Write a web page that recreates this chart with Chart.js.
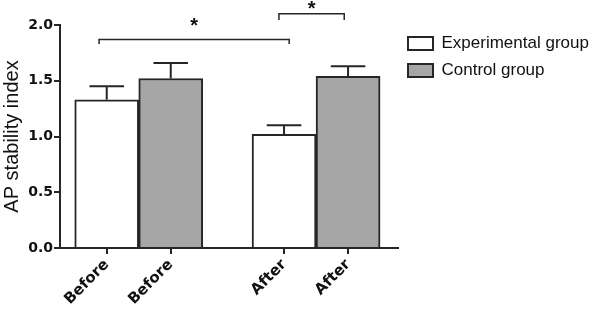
<!DOCTYPE html>
<html>
<head>
<meta charset="utf-8">
<script src="https://cdn.jsdelivr.net/npm/chart.js@4"></script>
<style>
  body { margin: 0; background: #fff; }
  #wrap { width: 597px; height: 310px; }
</style>
</head>
<body>
<div id="wrap"><canvas id="barChart" width="597" height="310"></canvas></div>
<script>
// data
var categories = ["Before", "Before", "After", "After"];
var groups = ["Experimental group", "Control group"];
var groupOfBar = [0, 1, 0, 1];
var means = [1.33, 1.52, 1.02, 1.54];
var sem = [0.12, 0.14, 0.08, 0.09];
var yTicks = [0, 0.5, 1.0, 1.5, 2.0];

// x placement: bars side by side, a gap between the two time points
var gap = 0.77;
var xPos = categories.map(function (c, i) { return i + (i >= 2 ? gap : 0); });

// significance brackets: [fromBar, toBar, level, tipLevel, offsetL, offsetR, starLevel]
var brackets = [
    [0, 2, 1.87, 1.83, -0.12, 0.08, 2.04],
    [2, 3, 2.10, 2.045, -0.08, -0.06, 2.19]
];

var fills = ["#ffffff", "#a6a6a6"];
var ink = "#262626";

var datasets = groups.map(function (g, gi) {
    var pts = [];
    means.forEach(function (m, i) {
        if (groupOfBar[i] === gi) pts.push({x: xPos[i], y: m});
    });
    return {
        label: g,
        data: pts,
        backgroundColor: fills[gi],
        borderColor: ink,
        borderWidth: 2,
        grouped: false,
        categoryPercentage: 1,
        barPercentage: 1
    };
});

var extras = {
    id: 'extras',
    afterDatasetsDraw: function (chart) {
        var ctx = chart.ctx, xs = chart.scales.x, ys = chart.scales.y;
        ctx.save();
        ctx.strokeStyle = ink;
        ctx.lineWidth = 2;
        // error bars (upper only)
        means.forEach(function (m, i) {
            var cx = xs.getPixelForValue(xPos[i]);
            var half = (xs.getPixelForValue(1) - xs.getPixelForValue(0)) * 0.27;
            var y0 = ys.getPixelForValue(m), y1 = ys.getPixelForValue(m + sem[i]);
            ctx.beginPath();
            ctx.moveTo(cx, y0);
            ctx.lineTo(cx, y1);
            ctx.moveTo(cx - half, y1);
            ctx.lineTo(cx + half, y1);
            ctx.stroke();
        });
        // brackets and stars
        ctx.lineWidth = 1.5;
        ctx.fillStyle = "#111";
        var fs = 20;
        ctx.font = "bold " + fs + "px 'Liberation Sans'";
        ctx.textAlign = 'center';
        ctx.textBaseline = 'alphabetic';
        brackets.forEach(function (b) {
            var x1 = xs.getPixelForValue(xPos[b[0]] + b[4]);
            var x2 = xs.getPixelForValue(xPos[b[1]] + b[5]);
            var y = ys.getPixelForValue(b[2]), yt = ys.getPixelForValue(b[3]);
            ctx.beginPath();
            ctx.moveTo(x1, yt);
            ctx.lineTo(x1, y);
            ctx.lineTo(x2, y);
            ctx.lineTo(x2, yt);
            ctx.stroke();
            ctx.fillText('*', (x1 + x2) / 2, ys.getPixelForValue(b[6]) + fs * 0.57);
        });
        ctx.restore();
    }
};

var ctxB = document.getElementById("barChart").getContext('2d');
var myBarChart = new Chart(ctxB, {
    type: 'bar',
    data: { datasets: datasets },
    options: {
        responsive: false,
        animation: false,
        layout: { padding: { top: 25, right: 0, left: 0, bottom: 0 } },
        plugins: {
            tooltip: { enabled: false },
            legend: {
                position: 'right',
                align: 'start',
                maxWidth: 199,
                labels: {
                    boxWidth: 25,
                    boxHeight: 13,
                    padding: 10,
                    color: '#111',
                    font: { family: "'Liberation Sans'", size: 17 }
                }
            }
        },
        scales: {
            x: {
                type: 'linear',
                offset: false,
                min: -0.73,
                max: xPos[3] + 0.78,
                afterBuildTicks: function (scale) {
                    scale.ticks = xPos.map(function (v) { return {value: v}; });
                },
                afterFit: function (scale) { scale.height = 62; },
                grid: { offset: false, drawOnChartArea: false, color: ink, lineWidth: 2, tickLength: 6 },
                border: { color: ink, width: 2 },
                ticks: {
                    autoSkip: false,
                    minRotation: 45,
                    maxRotation: 45,
                    padding: 2,
                    color: '#111',
                    font: { family: "'DejaVu Sans'", weight: 'bold', size: 15 },
                    callback: function (v, i) { return categories[i]; }
                }
            },
            y: {
                min: 0,
                max: 2,
                afterBuildTicks: function (scale) {
                    scale.ticks = yTicks.map(function (v) { return {value: v}; });
                },
                afterFit: function (scale) { scale.width = 60; },
                grid: { drawOnChartArea: false, color: ink, lineWidth: 2, tickLength: 6 },
                border: { color: ink, width: 2 },
                title: {
                    display: true,
                    text: 'AP stability index',
                    color: '#111',
                    padding: 0,
                    font: { family: "'Liberation Sans'", size: 20 }
                },
                ticks: {
                    padding: 1,
                    color: '#111',
                    font: { family: "'DejaVu Sans'", weight: 'bold', size: 14 },
                    callback: function (v) { return v.toFixed(1); }
                }
            }
        }
    },
    plugins: [extras]
});
</script>
</body>
</html>
